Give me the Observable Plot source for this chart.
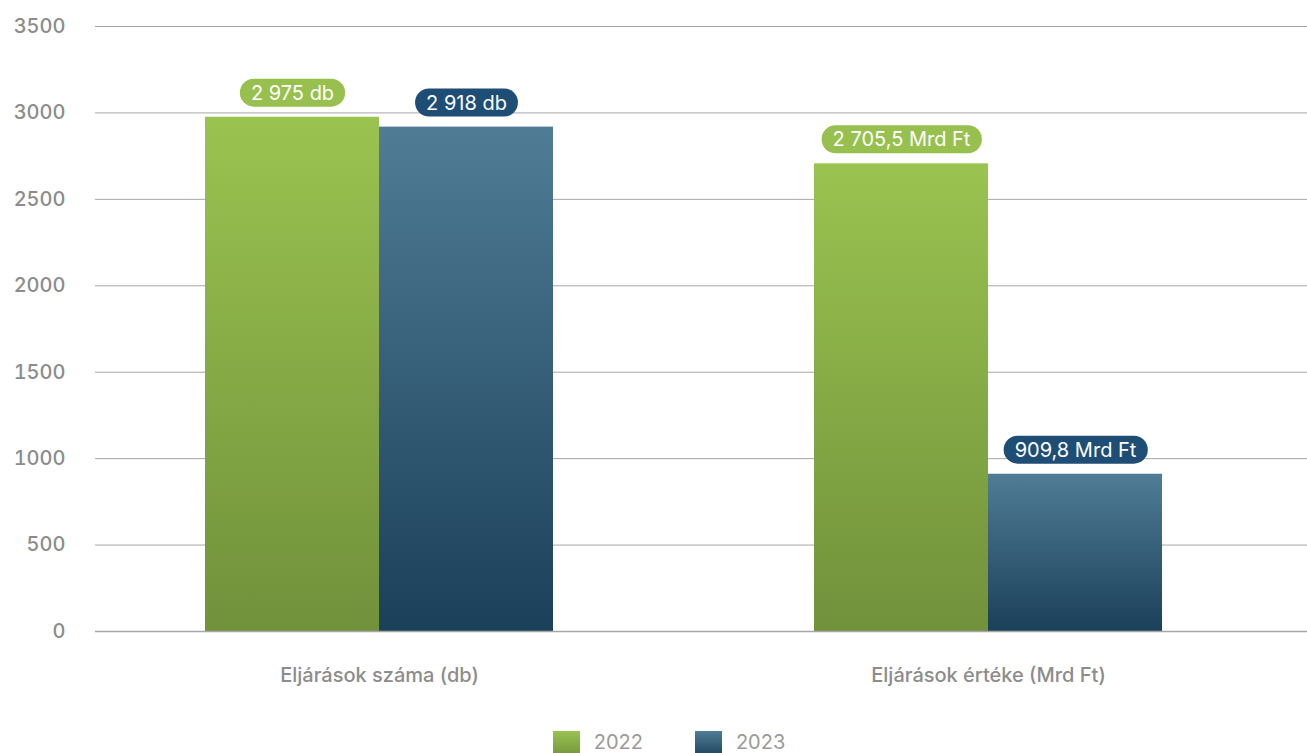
<!DOCTYPE html>
<html><head><meta charset="utf-8">
<script src="https://cdn.jsdelivr.net/npm/d3@7"></script>
<script src="https://cdn.jsdelivr.net/npm/@observablehq/plot@0.6"></script>
<style>
body{margin:0;background:#fff;font-family:Inter, sans-serif;}
#legend{display:flex;justify-content:center;align-items:center;padding-left:31px;margin-top:16px;}
.item{display:flex;align-items:center;margin:0 26px;}
.sw{width:27px;height:27px;margin-right:14px;}
.lt{font-size:20px;color:#9a9a9a;position:relative;top:-3px;}
</style></head><body>
<div id="chart"></div>
<div id="legend"></div>
<script>
const categories = ["Eljárások száma (db)", "Eljárások értéke (Mrd Ft)"];
const years = ["2022", "2023"];
const values2022 = [2975, 2705.5];
const values2023 = [2918, 909.8];
const labels2022 = ["2 975 db", "2 705,5 Mrd Ft"];
const labels2023 = ["2 918 db", "909,8 Mrd Ft"];
const yTicks = [0, 500, 1000, 1500, 2000, 2500, 3000, 3500];

const gradients = {"2022": ["#9ac350", "#71913b"], "2023": ["#507c96", "#1b4059"]};
const pillColors = {"2022": "#97c04e", "2023": "#1e4d75"};

const rows = categories.flatMap((c, i) => [
  {category: c, year: years[0], value: values2022[i], label: labels2022[i]},
  {category: c, year: years[1], value: values2023[i], label: labels2023[i]}
]);

const W = 1307, H = 715, mL = 95, mR = 0, mT = 26, mB = 84;
const xOpts = {domain: categories, paddingInner: 0.4286, paddingOuter: 0.2093, align: 0.431, tickSize: 0, tickPadding: 36, label: null};
const xs = Plot.scale({x: {...xOpts, type: "band", range: [mL, W - mR]}});
const half = xs.bandwidth / 2;

const chart = Plot.plot({
  width: W, height: H,
  marginLeft: mL, marginRight: mR, marginTop: mT, marginBottom: mB,
  style: {fontFamily: "Inter, sans-serif", fontSize: "20px", fontWeight: 500, color: "#8c8c8c", background: "#fff"},
  x: xOpts,
  y: {domain: [0, 3500], ticks: yTicks, tickFormat: d => String(d), tickSize: 0, tickPadding: 30, label: null},
  marks: [
    Plot.ruleY(yTicks, {stroke: "#a6a6a6", strokeWidth: 1}),
    ...years.map((yr, k) => Plot.barY(rows.filter(d => d.year === yr), {
      x: "category", y: "value", fill: `url(#grad${yr})`,
      insetLeft: k === 0 ? 0 : half, insetRight: k === 0 ? half : 0
    })),
    Plot.ruleY([0], {stroke: "#a6a6a6", strokeWidth: 1.5}),
    ...years.map((yr, k) => Plot.text(rows.filter(d => d.year === yr), {
      x: "category", y: "value", text: "label", dy: -24, dx: (k === 0 ? -1 : 1) * half / 2,
      lineAnchor: "middle", fill: "white", fontSize: 20, fontWeight: 400, title: "year"
    }))
  ]
});

// gradient definitions
const ns = "http://www.w3.org/2000/svg";
const defs = document.createElementNS(ns, "defs");
for (const yr of years) {
  const lg = document.createElementNS(ns, "linearGradient");
  lg.setAttribute("id", "grad" + yr);
  lg.setAttribute("x1", 0); lg.setAttribute("y1", 0); lg.setAttribute("x2", 0); lg.setAttribute("y2", 1);
  gradients[yr].forEach((c, k) => {
    const s = document.createElementNS(ns, "stop");
    s.setAttribute("offset", k);
    s.setAttribute("stop-color", c);
    lg.appendChild(s);
  });
  defs.appendChild(lg);
}
chart.insertBefore(defs, chart.firstChild);
document.getElementById("chart").appendChild(chart);

// pills behind value labels
chart.querySelectorAll("text").forEach(t => {
  const ti = t.querySelector("title");
  if (!ti) return;
  const yr = ti.textContent;
  ti.remove();
  const bb = t.getBBox();
  const r = document.createElementNS(ns, "rect");
  const h = 28;
  const cy = bb.y + bb.height / 2;
  r.setAttribute("x", bb.x - 11);
  r.setAttribute("width", bb.width + 22);
  r.setAttribute("y", cy - h / 2);
  r.setAttribute("height", h);
  r.setAttribute("rx", h / 2);
  r.setAttribute("fill", pillColors[yr]);
  if (t.getAttribute("transform")) r.setAttribute("transform", t.getAttribute("transform"));
  t.parentNode.insertBefore(r, t);
});

// legend
const legend = document.getElementById("legend");
for (const yr of years) {
  const it = document.createElement("div");
  it.className = "item";
  const sw = document.createElement("div");
  sw.className = "sw";
  sw.style.background = `linear-gradient(${gradients[yr][0]}, ${gradients[yr][1]})`;
  const lt = document.createElement("span");
  lt.className = "lt";
  lt.textContent = yr;
  it.appendChild(sw); it.appendChild(lt);
  legend.appendChild(it);
}
</script>
</body></html>
